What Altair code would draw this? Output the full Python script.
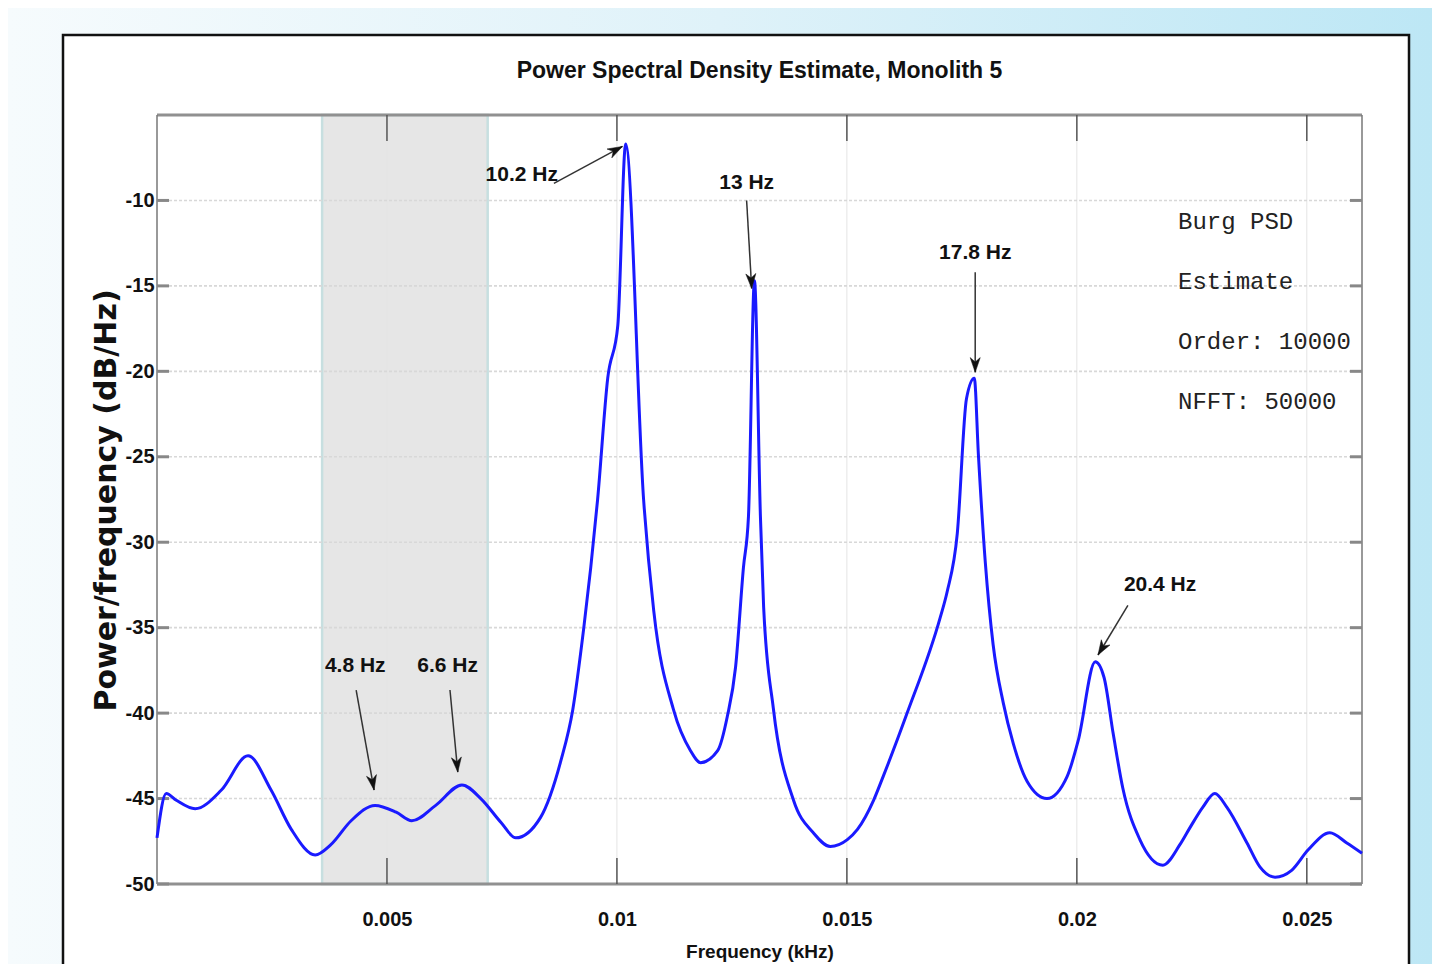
import math
import altair as alt
import pandas as pd

# ---------------- data ----------------
freq_khz = [0.0, 0.0002, 0.00042, 0.00083, 0.0014, 0.00198, 0.00248, 0.00292, 0.00344, 0.00378,
            0.00422, 0.00474, 0.0052, 0.00554, 0.00606, 0.00663, 0.00704, 0.00748, 0.0078, 0.00834,
            0.00878, 0.00904, 0.00928, 0.00943, 0.00958, 0.0098, 0.01002, 0.01019, 0.01058, 0.0108,
            0.01123, 0.0116, 0.01182, 0.01219, 0.0124, 0.01258, 0.01275, 0.01286, 0.01299, 0.01312,
            0.01319, 0.0134, 0.01384, 0.01427, 0.01464, 0.01501, 0.01523, 0.01558, 0.01579, 0.01631,
            0.01703, 0.01718, 0.0174, 0.0176, 0.01777, 0.01786, 0.01801, 0.01818, 0.0184, 0.01862,
            0.01892, 0.01935, 0.01979, 0.02003, 0.0204, 0.02059, 0.02079, 0.021, 0.02137, 0.02187,
            0.02224, 0.02246, 0.02274, 0.023, 0.02326, 0.0237, 0.02398, 0.02431, 0.02467, 0.02503,
            0.0255, 0.02587, 0.0262]
psd_db = [-47.3, -44.7, -45.1, -45.6, -44.5, -42.5, -44.5, -46.8, -48.3, -47.7,
          -46.3, -45.4, -45.8, -46.3, -45.4, -44.2, -45.0, -46.4, -47.3, -46.1,
          -42.8, -39.8, -35.0, -31.5, -27.5, -20.4, -17.3, -6.7, -27.5, -34.0,
          -39.8, -42.2, -42.9, -42.2, -40.2, -37.3, -31.5, -28.5, -14.7, -28.5,
          -33.8, -39.7, -45.1, -47.0, -47.8, -47.4, -46.8, -45.1, -43.7, -40.0,
          -34.4, -32.9, -29.5, -21.6, -20.4, -24.9, -31.2, -36.0, -39.4, -41.8,
          -44.0, -45.0, -43.7, -41.6, -37.0, -37.9, -41.2, -44.4, -47.4, -48.9,
          -47.7, -46.7, -45.5, -44.7, -45.5, -47.6, -49.0, -49.6, -49.2, -48.0,
          -47.0, -47.6, -48.2]

x_tick_values = [0.005, 0.01, 0.015, 0.02, 0.025]
y_tick_values = [-10, -15, -20, -25, -30, -35, -40, -45, -50]

band_from = [0.00359]
band_to = [0.00719]

peak_labels = ["10.2 Hz", "13 Hz", "17.8 Hz", "20.4 Hz", "4.8 Hz", "6.6 Hz"]
label_f = [0.00793, 0.01282, 0.01779, 0.02181, 0.00431, 0.00632]
label_v = [-8.54, -8.95, -13.1, -32.5, -37.25, -37.25]
arrow_f1 = [0.00863, 0.01282, 0.01779, 0.02111, 0.00433, 0.00637]
arrow_v1 = [-9.0, -10.0, -14.2, -33.7, -38.65, -38.65]
arrow_f2 = [0.01012, 0.01293, 0.01779, 0.02046, 0.00472, 0.00654]
arrow_v2 = [-6.84, -15.15, -20.06, -36.6, -44.5, -43.45]

info_lines = ["Burg PSD", "Estimate", "Order: 10000", "NFFT: 50000"]
info_f = 0.0222
info_v = -11.7

title_text = "Power Spectral Density Estimate, Monolith 5"
x_title = "Frequency (kHz)"
y_title = "Power/frequency (dB/Hz)"

# ---------------- layout ----------------
W, H = 1205, 769
PAD_L, PAD_T, PAD_R, PAD_B = 149, 107, 70, 80
X_DOMAIN = [0.0, 0.0262]
Y_DOMAIN = [-50, -5]
SANS = "Liberation Sans"
LINE_GAP = 60

xs = alt.Scale(domain=X_DOMAIN, nice=False, zero=False)
ys = alt.Scale(domain=Y_DOMAIN, nice=False, zero=False)

kx = W / (X_DOMAIN[1] - X_DOMAIN[0])
ky = H / (Y_DOMAIN[1] - Y_DOMAIN[0])

X_AXIS = alt.Axis(
    values=x_tick_values, format="~g", ticks=False, domain=False, grid=False,
    labelFont=SANS, labelFontSize=20, labelFontWeight="bold", labelColor="#111",
    labelPadding=25, title=x_title, titleFont=SANS, titleFontSize=19,
    titleFontWeight="bold", titleColor="#111", titleBaseline="top", titleY=58, zindex=1)
Y_AXIS = alt.Axis(
    values=y_tick_values, labelExpr="'' + datum.value", ticks=False, domain=False, grid=False,
    labelFont=SANS, labelFontSize=20, labelFontWeight="bold", labelColor="#111",
    labelPadding=3, title=y_title, titleFont="DejaVu Sans", titleFontSize=30,
    titleFontWeight="bold", titleColor="#111", titleAngle=270, titleAlign="center",
    titleBaseline="middle", titleX=-51, titleY=385, zindex=1)


def X(field):
    return alt.X(field, scale=xs, axis=X_AXIS)


def Y(field):
    return alt.Y(field, scale=ys, axis=Y_AXIS)


psd = pd.DataFrame({"f": freq_khz, "v": psd_db})
xt = pd.DataFrame({"f": x_tick_values})
yt = pd.DataFrame({"v": y_tick_values})
frame_h = pd.DataFrame({"v": [Y_DOMAIN[1], Y_DOMAIN[0]]})
frame_v = pd.DataFrame({"f": X_DOMAIN})
band = pd.DataFrame({"a": band_from, "b": band_to})
labels = pd.DataFrame({"label": peak_labels, "f": label_f, "v": label_v})
angles = []
for a, b, c, d in zip(arrow_f1, arrow_v1, arrow_f2, arrow_v2):
    dx = (c - a) * kx
    dy = -(d - b) * ky
    angles.append(math.degrees(math.atan2(dx, -dy)) % 360)
arrows = pd.DataFrame({"f1": arrow_f1, "v1": arrow_v1, "f2": arrow_f2, "v2": arrow_v2, "ang": angles})
info = pd.DataFrame({"t": info_lines,
                     "f": [info_f] * len(info_lines),
                     "v": [info_v - i * LINE_GAP / ky for i in range(len(info_lines))]})
one = pd.DataFrame({"k": [0]})

# ---------------- decoration: page background and white panel ----------------
bg = alt.Chart(one).mark_rect(
    fill=alt.Gradient(gradient="linear", x1=0, x2=1, y1=0, y2=0,
                      stops=[alt.GradientStop(color="#f6fbfd", offset=0),
                             alt.GradientStop(color="#dff2f9", offset=0.5),
                             alt.GradientStop(color="#bde7f5", offset=1)])
).encode(x=alt.value(-PAD_L), x2=alt.value(W + PAD_R), y=alt.value(-PAD_T), y2=alt.value(H + PAD_B))

panel = alt.Chart(one).mark_rect(fill="white", stroke="#111", strokeWidth=2.5).encode(
    x=alt.value(-94), x2=alt.value(W + 47), y=alt.value(-80), y2=alt.value(H + PAD_B + 20))

title_mark = alt.Chart(one).mark_text(
    text=title_text, font=SANS, fontSize=23, fontWeight="bold", color="#111",
    align="center", baseline="alphabetic").encode(x=alt.value(W / 2), y=alt.value(-37))

band_layer = alt.Chart(band).mark_rect(fill="#e6e6e6", stroke="#c7dfe0", strokeWidth=2.5).encode(
    x=X("a:Q"), x2="b:Q")

vgrid = alt.Chart(xt).mark_rule(color="#e4e4e4", strokeWidth=1).encode(x=X("f:Q"))
hgrid = alt.Chart(yt).mark_rule(color="#d8d8d8", strokeWidth=1.6, strokeDash=[3, 2]).encode(y=Y("v:Q"))

frame_top_bot = alt.Chart(frame_h).mark_rule(color="#909090", strokeWidth=3.2).encode(y=Y("v:Q"))
frame_sides = alt.Chart(frame_v).mark_rule(color="#777777", strokeWidth=1.5).encode(x=X("f:Q"))

xtick_bot = alt.Chart(xt).mark_rule(color="#555", strokeWidth=1.5).encode(
    x=X("f:Q"), y=alt.value(H), y2=alt.value(H - 26))
xtick_top = alt.Chart(xt).mark_rule(color="#555", strokeWidth=1.5).encode(
    x=X("f:Q"), y=alt.value(0), y2=alt.value(26))
ytick_left = alt.Chart(yt).mark_rule(color="#888", strokeWidth=3).encode(
    y=Y("v:Q"), x=alt.value(0), x2=alt.value(12))
ytick_right = alt.Chart(yt).mark_rule(color="#888", strokeWidth=3).encode(
    y=Y("v:Q"), x=alt.value(W - 12), x2=alt.value(W))

# ---------------- main line ----------------
line = alt.Chart(psd).mark_line(color="#1a1aff", strokeWidth=3, interpolate="monotone").encode(
    x=X("f:Q"), y=Y("v:Q"))

# ---------------- annotations ----------------
arrow_lines = alt.Chart(arrows).mark_rule(color="#333", strokeWidth=1.5).encode(
    x=X("f1:Q"), y=Y("v1:Q"), x2="f2:Q", y2="v2:Q")
arrow_heads = alt.Chart(arrows).mark_point(
    shape="M0,0L0.75,2.2L0,1.55L-0.75,2.2Z", filled=True, fill="#111", stroke="#111",
    strokeWidth=0.5, opacity=1, size=180).encode(
    x=X("f2:Q"), y=Y("v2:Q"), angle=alt.Angle("ang:Q", scale=None))
label_text = alt.Chart(labels).mark_text(
    font=SANS, fontSize=21, fontWeight="bold", color="#111", align="center", baseline="middle").encode(
    x=X("f:Q"), y=Y("v:Q"), text="label:N")
info_text = alt.Chart(info).mark_text(
    font="Liberation Mono", fontSize=24, color="#222", align="left", baseline="alphabetic").encode(
    x=X("f:Q"), y=Y("v:Q"), text="t:N")

chart = alt.layer(
    bg, panel, title_mark, band_layer, vgrid, hgrid, frame_top_bot, frame_sides,
    xtick_bot, xtick_top, ytick_left, ytick_right, line, arrow_lines, arrow_heads, label_text, info_text
).properties(
    width=W, height=H,
    autosize=alt.AutoSizeParams(type="none"),
    padding={"left": PAD_L, "top": PAD_T, "right": PAD_R, "bottom": PAD_B},
).configure_view(stroke=None)

chart.save("out.html", embed_options={"renderer": "svg", "actions": False})
